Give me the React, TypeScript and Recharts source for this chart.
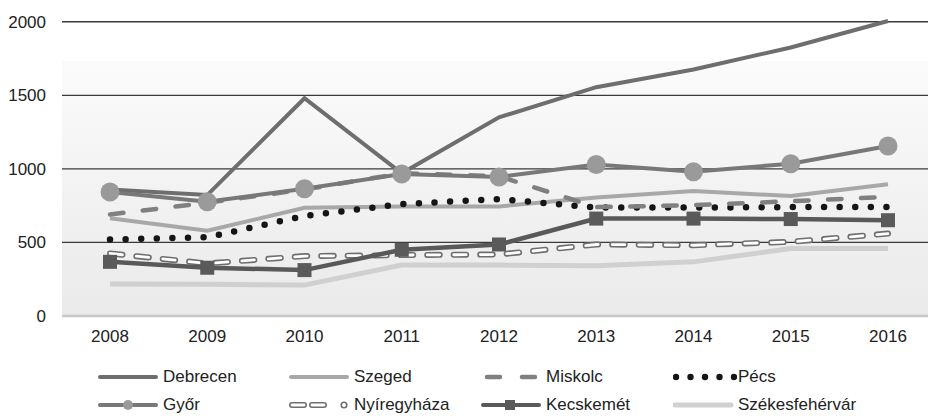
import React from 'react';
import { LineChart, Line, XAxis, YAxis, ReferenceLine, CartesianGrid } from 'recharts';

const years = ['2008', '2009', '2010', '2011', '2012', '2013', '2014', '2015', '2016'];
const debrecen = [860, 822, 1480, 970, 1350, 1555, 1675, 1825, 2005];
const gyor = [843, 776, 865, 965, 945, 1030, 980, 1035, 1155];
const szeged = [665, 580, 735, 745, 745, 805, 850, 815, 895];
const miskolc = [690, 770, 860, 970, 950, 740, 753, 780, 810];
const pecs = [520, 535, 680, 760, 795, 737, 737, 740, 740];
const nyiregyhaza = [425, 357, 407, 414, 418, 486, 481, 504, 560];
const kecskemet = [368, 328, 312, 450, 486, 662, 662, 659, 651];
const szekesfehervar = [217, 215, 210, 346, 346, 342, 368, 459, 459];
const yTicks = [0, 500, 1000, 1500, 2000];
const gridValues = [500, 1000, 1500, 2000];

const data = years.map((year, i) => ({
  year,
  Debrecen: debrecen[i],
  'Győr': gyor[i],
  Szeged: szeged[i],
  Miskolc: miskolc[i],
  'Pécs': pecs[i],
  'Nyíregyháza': nyiregyhaza[i],
  'Kecskemét': kecskemet[i],
  'Székesfehérvár': szekesfehervar[i],
}));

const FONT = '"Liberation Sans", Arial, sans-serif';
const TEXT = '#222222';

const SquareDot = (props: any) => {
  const { cx, cy } = props;
  if (cx == null || cy == null) return null;
  return <rect x={cx - 7} y={cy - 7} width={14} height={14} fill="#5a5a5a" />;
};

function LegendIcon({ name }: { name: string }) {
  const y = 10;
  switch (name) {
    case 'Debrecen':
      return <line x1={2} x2={58} y1={y} y2={y} stroke="#6e6e6e" strokeWidth={4} strokeLinecap="round" />;
    case 'Szeged':
      return <line x1={2} x2={58} y1={y} y2={y} stroke="#a8a8a8" strokeWidth={4} strokeLinecap="round" />;
    case 'Miskolc':
      return (
        <line x1={2} x2={56} y1={y} y2={y} stroke="#808080" strokeWidth={4.5}
          strokeLinecap="round" strokeDasharray="13 22" strokeDashoffset={-4} />
      );
    case 'Pécs':
      return (
        <g fill="#151515">
          {[3, 17.5, 32, 46.5, 61].map((x) => <circle key={x} cx={x} cy={y} r={3.2} />)}
        </g>
      );
    case 'Győr':
      return (
        <g>
          <line x1={2} x2={58} y1={y} y2={y} stroke="#787878" strokeWidth={4} strokeLinecap="round" />
          <circle cx={30} cy={y} r={5} fill="#9a9a9a" />
        </g>
      );
    case 'Nyíregyháza':
      return (
        <g fill="none">
          <line x1={3} x2={15} y1={y} y2={y} stroke="#6e6e6e" strokeWidth={6} strokeLinecap="round" />
          <line x1={3} x2={15} y1={y} y2={y} stroke="#fff" strokeWidth={2.8} strokeLinecap="round" />
          <line x1={23} x2={35} y1={y} y2={y} stroke="#6e6e6e" strokeWidth={6} strokeLinecap="round" />
          <line x1={23} x2={35} y1={y} y2={y} stroke="#fff" strokeWidth={2.8} strokeLinecap="round" />
          <circle cx={55} cy={y} r={2.8} stroke="#6e6e6e" strokeWidth={1.6} fill="#fff" />
        </g>
      );
    case 'Kecskemét':
      return (
        <g>
          <line x1={2} x2={58} y1={y} y2={y} stroke="#595959" strokeWidth={4} strokeLinecap="round" />
          <rect x={24} y={y - 5} width={10} height={10} fill="#5a5a5a" />
        </g>
      );
    default:
      return <line x1={2} x2={58} y1={y} y2={y} stroke="#d0d0d0" strokeWidth={5} strokeLinecap="round" />;
  }
}

const legendRows = [
  ['Debrecen', 'Szeged', 'Miskolc', 'Pécs'],
  ['Győr', 'Nyíregyháza', 'Kecskemét', 'Székesfehérvár'],
];
const legendCols = [98, 289, 481, 673];
const legendRowY = [377, 405];

export default function App() {
  return (
    <div style={{ position: 'absolute', left: 0, top: 0, width: 928, height: 419, background: '#fff', fontFamily: FONT }}>
      <LineChart width={928} height={419} data={data} margin={{ top: 21, right: 0, bottom: 73, left: 0 }}>
        <defs>
          <linearGradient id="bg" x1="0" y1="0" x2="0" y2="1">
            <stop offset="0%" stopColor="#ffffff" />
            <stop offset="13.5%" stopColor="#ffffff" />
            <stop offset="13.6%" stopColor="#fbfbfb" />
            <stop offset="100%" stopColor="#eaeaea" />
          </linearGradient>
        </defs>
        <CartesianGrid horizontal={false} vertical={false} fill="url(#bg)" fillOpacity={1} stroke="none" />
        {gridValues.map((v) => (
          <ReferenceLine key={v} y={v} stroke="#3a3a3a" strokeWidth={1.3} />
        ))}
        <XAxis
          dataKey="year"
          padding={{ left: 48, right: 40 }}
          tickLine={false}
          tickSize={0}
          tickMargin={14}
          height={30}
          axisLine={{ stroke: '#c8c8c8', strokeWidth: 2.4 }}
          tick={{ fontSize: 17, fill: TEXT, fontFamily: FONT }}
        />
        <YAxis
          domain={[0, 2000]}
          ticks={yTicks}
          width={62}
          axisLine={false}
          tickLine={false}
          tickSize={0}
          tickMargin={16}
          tick={{ fontSize: 17, fill: TEXT, fontFamily: FONT }}
        />
        <Line dataKey="Székesfehérvár" stroke="#d0d0d0" strokeWidth={5} dot={false} isAnimationActive={false} />
        <Line dataKey="Nyíregyháza" stroke="#6e6e6e" strokeWidth={6} strokeDasharray="12.5 14"
          strokeLinecap="round" dot={false} isAnimationActive={false} />
        <Line dataKey="Nyíregyháza" stroke="#ffffff" strokeWidth={2.8} strokeDasharray="12.5 14"
          strokeLinecap="round" dot={false} legendType="none" isAnimationActive={false} />
        <Line dataKey="Kecskemét" stroke="#595959" strokeWidth={4.5} dot={<SquareDot />} isAnimationActive={false} />
        <Line dataKey="Szeged" stroke="#a8a8a8" strokeWidth={4} dot={false} isAnimationActive={false} />
        <Line dataKey="Pécs" stroke="#151515" strokeWidth={6.5} strokeDasharray="0 15.6"
          strokeLinecap="round" dot={false} isAnimationActive={false} />
        <Line dataKey="Miskolc" stroke="#808080" strokeWidth={4.5} strokeDasharray="13.5 19.5"
          strokeLinecap="round" dot={false} isAnimationActive={false} />
        <Line dataKey="Debrecen" stroke="#6e6e6e" strokeWidth={4} dot={false} isAnimationActive={false} />
        <Line dataKey="Győr" stroke="#787878" strokeWidth={4}
          dot={{ r: 9.5, fill: '#9a9a9a', stroke: 'none' }} isAnimationActive={false} />
      </LineChart>
      {legendRows.map((row, ri) =>
        row.map((name, ci) => (
          <div
            key={name}
            style={{
              position: 'absolute',
              left: legendCols[ci],
              top: legendRowY[ri] - 10,
              height: 20,
              display: 'flex',
              alignItems: 'center',
              whiteSpace: 'nowrap',
            }}
          >
            <svg width={64} height={20} style={{ display: 'block' }}>
              <LegendIcon name={name} />
            </svg>
            <span style={{ fontSize: 17, color: TEXT, marginLeft: 1, lineHeight: '20px' }}>{name}</span>
          </div>
        ))
      )}
    </div>
  );
}
